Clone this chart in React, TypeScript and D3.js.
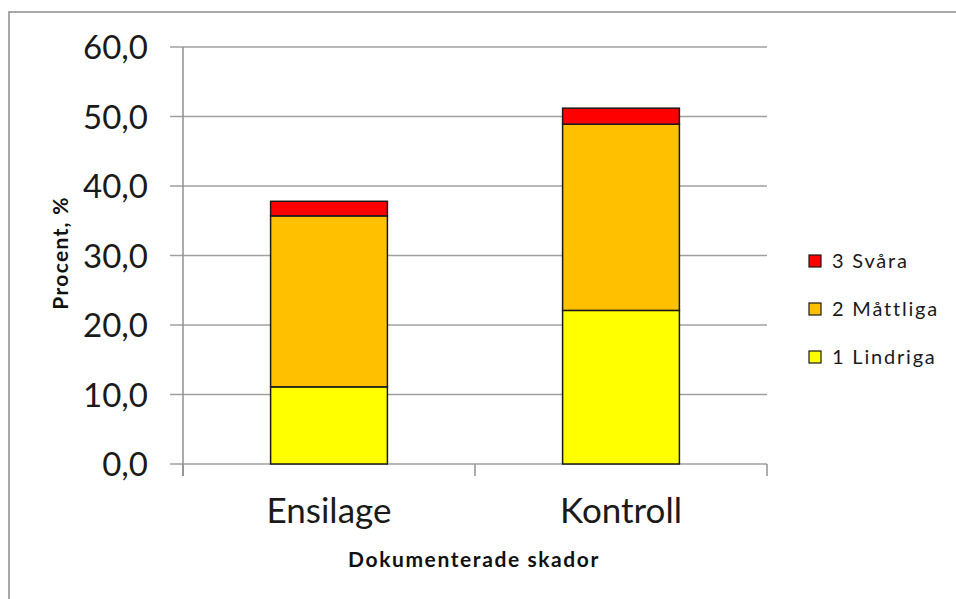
import React from "react";
import * as d3 from "d3";

const categories = ["Ensilage", "Kontroll"];
const seriesNames = ["1 Lindriga", "2 Måttliga", "3 Svåra"];
const lindriga = [11.1, 22.1];
const mattliga = [24.6, 26.8];
const svara = [2.1, 2.3];
const yTicks = [0, 10, 20, 30, 40, 50, 60];
const colors = ["#FFFF00", "#FFC000", "#FF0000"];

export default function App() {
  const W = 956, H = 599;
  const left = 183, right = 767, top = 47, bottom = 464;
  const y = d3.scaleLinear().domain([0, 60]).range([bottom, top]);
  const x = d3.scaleBand().domain(categories).range([left, right]).paddingInner(0).paddingOuter(0);
  const barW = x.bandwidth() * 0.4;
  const rows = categories.map((c, i) => ({ cat: c, l: lindriga[i], m: mattliga[i], s: svara[i] }));
  const stack = d3.stack<any>().keys(["l", "m", "s"])(rows);
  const fmt = (v: number) => v.toFixed(1).replace(".", ",");
  const font = "Lato, 'Open Sans', sans-serif";
  const legendY = [357, 309, 261];
  return (
    <svg width={W} height={H} style={{ position: "absolute", left: 0, top: 0 }}>
      <rect x={0} y={0} width={W} height={H} fill="#fff" />
      <rect x={9} y={12} width={W + 20} height={H + 20} fill="none" stroke="#8c8c8c" strokeWidth={1.5} />
      {yTicks.map((t) => (
        <g key={t}>
          <line x1={170} x2={right} y1={y(t)} y2={y(t)} stroke="#a0a0a0" strokeWidth={1.5} />
          <text x={148} y={y(t) + 12} textAnchor="end" fontFamily={font} fontSize={33} fill="#1a1a1a">{fmt(t)}</text>
        </g>
      ))}
      <line x1={left} x2={left} y1={top} y2={bottom + 12} stroke="#909090" strokeWidth={1.5} />
      {[left, left + x.bandwidth(), right].map((v, i) => (
        <line key={i} x1={v} x2={v} y1={bottom} y2={bottom + 12} stroke="#909090" strokeWidth={1.5} />
      ))}
      {stack.map((layer, li) =>
        layer.map((d, i) => (
          <rect key={li + "-" + i}
            x={(x(categories[i]) as number) + (x.bandwidth() - barW) / 2}
            y={y(d[1])} width={barW} height={y(d[0]) - y(d[1])}
            fill={colors[li]} stroke="#1a1a1a" strokeWidth={1.5} />
        ))
      )}
      {categories.map((c) => (
        <text key={c} x={(x(c) as number) + x.bandwidth() / 2} y={523} textAnchor="middle" fontFamily={font} fontSize={35} fill="#1a1a1a">{c}</text>
      ))}
      <text transform="translate(61,253) rotate(-90)" textAnchor="middle" dy="0.35em" fontFamily={font} fontWeight="bold" fontSize={21} letterSpacing={1.3} fill="#111">Procent, %</text>
      <text x={474} y={567} textAnchor="middle" fontFamily={font} fontWeight="bold" fontSize={21} letterSpacing={1.6} fill="#111">Dokumenterade skador</text>
      {seriesNames.map((n, i) => (
        <g key={n}>
          <rect x={809} y={legendY[i] - 6} width={12} height={12} fill={colors[i]} stroke="#1a1a1a" strokeWidth={1.2} />
          <text x={832} y={legendY[i] + 7} fontFamily={font} fontSize={20} letterSpacing={1.8} fill="#1a1a1a">{n}</text>
        </g>
      ))}
    </svg>
  );
}
